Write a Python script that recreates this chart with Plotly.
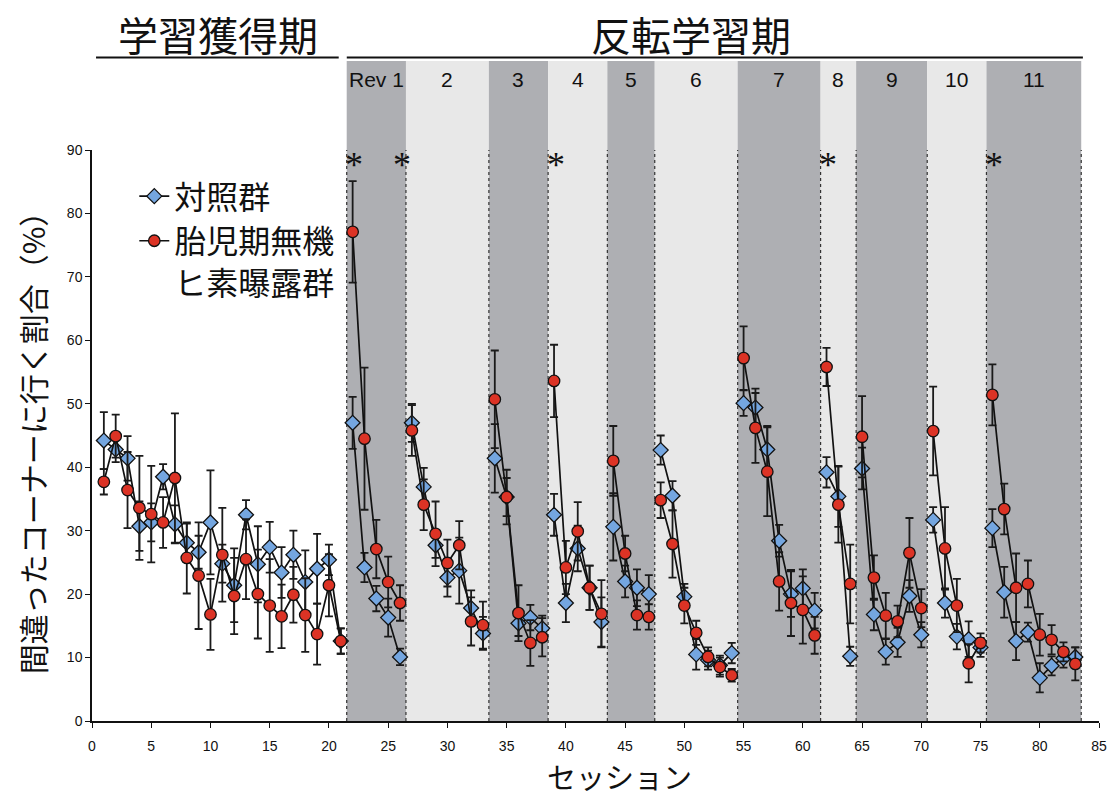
import plotly.graph_objects as go

# ---- data -------------------------------------------------------------
sessions = list(range(1, 84))

# acquisition sessions 1-21, then reversal blocks
acq_sessions = 21
block_labels = ["Rev 1", "2", "3", "4", "5", "6", "7", "8", "9", "10", "11"]
block_sizes = [5, 7, 5, 5, 4, 7, 7, 3, 6, 5, 8]
sig_sessions = [22, 26, 39, 62, 76]

ctrl_mean = [
    44.2, 42.8, 41.4, 30.7, 31.3, 38.5, 31.0, 28.1, 26.6, 31.3, 24.8,
    21.4, 32.5, 24.7, 27.4, 23.4, 26.2, 21.9, 24.0, 25.4, 12.6,
    47.0, 24.2, 19.3, 16.3, 10.1,
    47.0, 36.9, 27.7, 22.6, 23.7, 17.8, 13.8,
    41.4, 35.3, 15.4, 16.3, 14.6,
    32.5, 18.6, 27.2, 21.0, 15.6,
    30.6, 22.0, 21.0, 20.0,
    42.7, 35.5, 19.6, 10.5, 9.6, 8.8, 10.7,
    50.1, 49.4, 42.8, 28.4, 20.0, 20.9, 17.4,
    39.2, 35.4, 10.2,
    39.8, 16.8, 10.9, 12.4, 19.7, 13.6,
    31.7, 18.6, 13.3, 12.9, 11.6,
    30.4, 20.3, 12.6, 14.0, 6.8, 8.7, 9.9, 10.1,
]
ctrl_sem = [
    4.5, 2.0, 3.5, 3.9, 3.0, 2.0, 3.0, 3.0, 2.6, 8.2, 3.0,
    5.8, 2.3, 6.0, 4.0, 4.0, 3.8, 5.0, 5.5, 2.4, 2.0,
    4.1, 2.3, 2.0, 3.0, 1.3,
    3.0, 3.0, 2.0, 3.0, 5.2, 2.8, 2.6,
    5.4, 3.0, 2.0, 2.0, 2.0,
    3.3, 3.0, 3.6, 3.5, 3.9,
    5.3, 2.5, 2.9, 3.0,
    2.3, 2.3, 2.0, 2.4, 1.5, 1.5, 1.6,
    2.0, 3.0, 3.7, 2.5, 3.6, 3.0, 2.8,
    2.4, 4.8, 1.5,
    3.3, 2.5, 2.0, 2.3, 2.5, 2.0,
    2.0, 2.3, 2.0, 2.8, 1.5,
    3.0, 4.0, 3.0, 1.5, 2.3, 1.5, 1.5, 1.5,
]
ars_mean = [
    37.7, 44.9, 36.4, 33.6, 32.6, 31.3, 38.3, 25.7, 22.9, 16.8, 26.2,
    19.7, 25.5, 20.0, 18.2, 16.5, 19.9, 16.7, 13.7, 21.4, 12.6,
    77.1, 44.5, 27.1, 21.9, 18.6,
    45.8, 34.1, 29.5, 24.9, 27.7, 15.7, 15.1,
    50.7, 35.3, 17.0, 12.3, 13.2,
    53.6, 24.2, 29.9, 21.0, 16.9,
    41.0, 26.4, 16.7, 16.4,
    34.8, 27.9, 18.2, 13.9, 10.1, 8.5, 7.2,
    57.2, 46.2, 39.3, 22.0, 18.6, 17.5, 13.5,
    55.8, 34.1, 21.6,
    44.8, 22.6, 16.6, 15.7, 26.5, 17.8,
    45.7, 27.2, 18.2, 9.1, 12.3,
    51.4, 33.4, 21.0, 21.6, 13.6, 12.8, 10.9, 9.0,
]
ars_sem = [
    2.0, 3.4, 6.0, 8.2, 7.6, 4.0, 10.2, 5.6, 8.4, 5.6, 7.4,
    6.0, 6.3, 7.0, 7.3, 5.0, 4.4, 5.8, 4.8, 4.9, 2.0,
    8.0, 11.2, 4.6, 4.0, 2.8,
    4.0, 4.0, 5.1, 3.7, 3.8, 3.8, 3.7,
    7.7, 4.3, 4.4, 3.6, 3.0,
    5.7, 4.2, 4.6, 3.5, 5.3,
    5.5, 2.8, 2.3, 2.0,
    2.8, 5.3, 2.8, 1.9, 1.5, 1.5, 1.0,
    5.0, 5.5, 7.0, 4.6, 5.2, 5.3, 2.9,
    3.0, 6.0, 6.2,
    6.4, 3.5, 3.6, 2.5, 5.5, 3.0,
    7.0, 6.5, 4.2, 3.0, 1.5,
    4.8, 4.0, 5.4, 3.7, 3.3, 2.3, 1.5, 2.6,
]

# ---- block geometry ---------------------------------------------------
segments = [acq_sessions] + block_sizes
edges = [0.5]
for n in segments:
    edges.append(edges[-1] + n)
rev_edges = edges[1:]          # 21.5 ... 83.5


def broken(values):
    """Insert gaps so lines are not joined across blocks."""
    out, i = [], 0
    for n in segments:
        out.extend(values[i:i + n])
        out.append(None)
        i += n
    return out[:-1]


xs = broken(sessions)

fig = go.Figure()

fig.add_trace(go.Scatter(
    x=xs, y=broken(ctrl_mean), name="対照群", mode="lines+markers",
    connectgaps=False,
    line=dict(color="#111111", width=1.7),
    marker=dict(symbol="diamond", size=11.5, color="#74a6e0",
                line=dict(color="#111111", width=1.3)),
    error_y=dict(type="data", array=broken(ctrl_sem), visible=True,
                 color="#1a1a1a", thickness=1.8, width=4),
))
fig.add_trace(go.Scatter(
    x=xs, y=broken(ars_mean), name="胎児期無機<br>ヒ素曝露群", mode="lines+markers",
    connectgaps=False,
    line=dict(color="#111111", width=1.7),
    marker=dict(symbol="circle", size=11.5, color="#dc3325",
                line=dict(color="#111111", width=1.3)),
    error_y=dict(type="data", array=broken(ars_sem), visible=True,
                 color="#1a1a1a", thickness=1.8, width=4),
))

shapes = []
band_top = 1.156
for i, lab in enumerate(block_labels):
    x0, x1 = rev_edges[i], rev_edges[i + 1]
    shapes.append(dict(
        type="rect", xref="x", yref="paper", x0=x0, x1=x1, y0=0, y1=band_top,
        fillcolor="#aeafb3" if i % 2 == 0 else "#e8e8e8",
        line=dict(width=0), layer="below"))
for e in rev_edges:
    shapes.append(dict(
        type="line", xref="x", yref="y", x0=e, x1=e, y0=0, y1=90,
        line=dict(color="#333333", width=1.2, dash="dot"), layer="below"))

# phase header rules
shapes.append(dict(type="line", xref="paper", yref="paper",
                   x0=0.004, x1=0.245, y0=1.162, y1=1.162,
                   line=dict(color="#111111", width=2)))
shapes.append(dict(type="line", xref="paper", yref="paper",
                   x0=0.253, x1=0.984, y0=1.162, y1=1.162,
                   line=dict(color="#111111", width=2)))

annotations = []
for i, lab in enumerate(block_labels):
    annotations.append(dict(
        x=(rev_edges[i] + rev_edges[i + 1]) / 2, y=1.1226,
        xref="x", yref="paper", text=lab, showarrow=False,
        font=dict(family="Liberation Sans, Arial", size=21, color="#111111"),
        xanchor="center", yanchor="middle"))
for s in sig_sessions:
    annotations.append(dict(
        x=s + 0.15, y=88.8, xref="x", yref="y", text="*", showarrow=False,
        font=dict(family="Liberation Serif, Times New Roman", size=36,
                  color="#111111"),
        xanchor="center", yanchor="middle", yshift=-7))

annotations.append(dict(
    x=0.125, y=1.204, xref="paper", yref="paper", text="学習獲得期",
    showarrow=False, font=dict(family="Noto Sans CJK JP", size=40,
                               color="#111111"),
    xanchor="center", yanchor="middle"))
annotations.append(dict(
    x=0.595, y=1.204, xref="paper", yref="paper", text="反転学習期",
    showarrow=False, font=dict(family="Noto Sans CJK JP", size=40,
                               color="#111111"),
    xanchor="center", yanchor="middle"))
# session axis caption
annotations.append(dict(
    x=0.524, y=-0.0965, xref="paper", yref="paper", text="セッション",
    showarrow=False, borderpad=0,
    font=dict(family="Noto Sans CJK JP", size=29, color="#111111"),
    xanchor="center", yanchor="middle"))

tick_font = dict(family="Liberation Sans Narrow, Liberation Sans, Arial",
                 size=14, color="#111111")

fig.update_layout(
    width=1115, height=798, autosize=False,
    margin=dict(l=92, r=8, t=150, b=77),
    paper_bgcolor="white", plot_bgcolor="rgba(0,0,0,0)",
    font=dict(family="Noto Sans CJK JP", color="#111111"),
    shapes=shapes, annotations=annotations,
    showlegend=True,
    legend=dict(x=0.042, y=0.967, xanchor="left", yanchor="top",
                bgcolor="rgba(0,0,0,0)", font=dict(size=32),
                valign="top", tracegroupgap=2),
    xaxis=dict(range=[0, 85], tickmode="array", tickvals=list(range(0, 90, 5)),
               showline=True, linecolor="#111111", linewidth=1.5,
               ticks="outside", ticklen=5, tickcolor="#111111",
               ticklabelstandoff=6,
               showgrid=False, zeroline=False, tickfont=tick_font),
    yaxis=dict(range=[0, 90], tickmode="array", tickvals=list(range(0, 100, 10)),
               showline=True, linecolor="#111111", linewidth=1.5,
               ticks="outside", ticklen=5, tickcolor="#111111",
               showgrid=False, zeroline=False, tickfont=tick_font,
               title=dict(text="間違ったコーナーに行く割合（%）",
                          font=dict(size=30), standoff=12)),
)

fig.write_html("out.html")
